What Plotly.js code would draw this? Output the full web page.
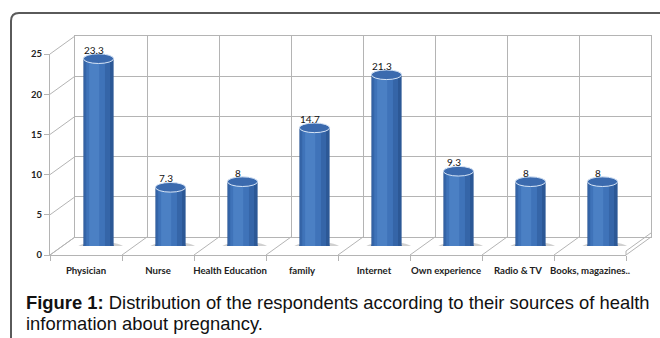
<!DOCTYPE html>
<html><head><meta charset="utf-8">
<script src="https://cdn.plot.ly/plotly-3.0.1.min.js"></script>
<style>html,body{margin:0;padding:0;background:#fff}#chart{width:660px;height:338px}</style>
</head><body><div id="chart"></div>
<script>
// ---- data ----
const categories = ["Physician","Nurse","Health Education","family","Internet","Own experience","Radio & TV","Books, magazines.."];
const percents = [23.3, 7.3, 8, 14.7, 21.3, 9.3, 8, 8];
const valueLabels = ["23.3","7.3","8","14.7","21.3","9.3","8","8"];
const yTicks = [0,5,10,15,20,25];
const captionBold = "Figure 1:";
const captionLine1 = " Distribution of the respondents according to their sources of health";
const captionLine2 = "information about pregnancy.";

// ---- geometry (pixels) ----
const W = 660, H = 338;
const front = {x0: 50, x1: 626, y0: 255, y1: 54};
const DX = 25, DY = -18;
const back = {x0: front.x0+DX, x1: front.x1+DX, y0: front.y0+DY, y1: front.y1+DY};
const mid = {x0: front.x0+DX/2, x1: front.x1+DX/2, y0: front.y0+DY/2, y1: front.y1+DY/2};
const px = x => x / W, py = y => 1 - y / H;
const dom = g => ({x: [px(g.x0), px(g.x1)], y: [py(g.y0), py(g.y1)]});
const yMax = 25, n = categories.length;
const idx = categories.map((c,i)=>i);

const gridCol = '#b4b4b4';
const traces = [];
// invisible carrier traces so the front axes and the back wall get drawn
traces.push({type:'scatter', x: categories, y: percents, xaxis:'x', yaxis:'y', mode:'markers',
  marker:{opacity:0}, hoverinfo:'skip', showlegend:false});
traces.push({type:'scatter', x: idx, y: percents, xaxis:'x2', yaxis:'y2', mode:'markers',
  marker:{opacity:0}, hoverinfo:'skip', showlegend:false});
// cylinder bodies: layered bars for shading
const layers = [
  {w:0.42, off:-0.21, c:'#2c5896'},
  {w:0.36, off:-0.20, c:'#3565a8'},
  {w:0.26, off:-0.17, c:'#3f73b9'},
  {w:0.14, off:-0.13, c:'#4b80c4'}
];
layers.forEach(L => traces.push({
  type:'bar', x: idx, y: percents, xaxis:'x3', yaxis:'y3',
  width: L.w, offset: L.off, marker:{color:L.c, line:{width:0}},
  hoverinfo:'skip', showlegend:false
}));

const shapes = [];
// frame
shapes.push({type:'path', xref:'paper', yref:'paper',
  path:`M ${px(11)} ${py(338)} L ${px(11)} ${py(21)} Q ${px(11)} ${py(13)} ${px(19)} ${py(13)} L ${px(660)} ${py(13)}`,
  line:{color:'#5a5a5a', width:2}});
// side wall diagonals
const yFront = v => front.y0 + (front.y1-front.y0)*v/yMax;
yTicks.forEach(v => shapes.push({type:'line', xref:'paper', yref:'paper',
  x0: px(front.x0), y0: py(yFront(v)), x1: px(back.x0), y1: py(yFront(v)+DY),
  line:{color:gridCol, width:1}}));
// floor diagonals
const step = (front.x1-front.x0)/n;
for (let k=0;k<=n;k++){
  shapes.push({type:'line', xref:'paper', yref:'paper',
    x0: px(front.x0+k*step), y0: py(front.y0), x1: px(back.x0+k*step), y1: py(back.y0),
    line:{color:gridCol, width:1}});
}
// floor slab edge
shapes.push({type:'line', xref:'paper', yref:'paper', x0:px(front.x1), y0:py(front.y0), x1:px(front.x1), y1:py(front.y0-4), line:{color:gridCol,width:1}});
shapes.push({type:'line', xref:'paper', yref:'paper', x0:px(front.x1), y0:py(front.y0-4), x1:px(back.x1), y1:py(back.y0-4), line:{color:gridCol,width:1}});
// shadows and cylinder ends
percents.forEach((v,i) => {
  shapes.push({type:'circle', xref:'x3', yref:'y3', layer:'below',
    x0: i-0.30, x1: i+0.36, y0: -1.0, y1: 0.5,
    fillcolor:'rgba(120,120,120,0.35)', line:{width:0}});
  shapes.push({type:'circle', xref:'x3', yref:'y3', layer:'below',
    x0: i-0.21, x1: i+0.21, y0: -0.6, y1: 0.6,
    fillcolor:'#2c5896', line:{width:0}});
  shapes.push({type:'circle', xref:'x3', yref:'y3', layer:'above',
    x0: i-0.21, x1: i+0.21, y0: v-0.6, y1: v+0.6,
    fillcolor:'#3b6aae', line:{color:'#d6e4f6', width:1}});
});

const annotations = percents.map((v,i) => ({
  x: i, y: v, xref:'x3', yref:'y3', text: valueLabels[i], showarrow:false,
  yanchor:'bottom', yshift: 1, xshift:-5, font:{family:'Lato, sans-serif', size:10, color:'#111'}
}));
const capFont = {family:'Liberation Sans, Arial, sans-serif', size:18.4, color:'#111'};
annotations.push({xref:'paper', yref:'paper', x: px(24), y: py(302), xanchor:'left', yanchor:'middle',
  showarrow:false, align:'left', text: `<b>${captionBold}</b>${captionLine1}`, font: capFont});
annotations.push({xref:'paper', yref:'paper', x: px(24), y: py(323), xanchor:'left', yanchor:'middle',
  showarrow:false, align:'left', text: captionLine2, font: capFont});

const dF = dom(front), dB = dom(back), dM = dom(mid);
const tickFont = {family:'Lato, sans-serif', size:9.5, color:'#222', weight:'bold'};
const catFont = {family:'Lato, sans-serif', size:9.6, color:'#222', weight:'bold'};
const layout = {
  width: W, height: H, margin:{l:0,r:0,t:0,b:0},
  paper_bgcolor:'#fff', plot_bgcolor:'rgba(0,0,0,0)',
  barmode:'overlay', showlegend:false,
  xaxis:{domain:dF.x, anchor:'y', type:'category', categoryorder:'array', categoryarray:categories,
    range:[-0.5, n-0.5], showgrid:false, zeroline:false, showline:true, linecolor:gridCol, tickangle:0,
    ticks:'outside', tickson:'boundaries', ticklen:5, tickcolor:gridCol, tickfont:catFont,
    ticklabelstandoff:6, fixedrange:true},
  yaxis:{domain:dF.y, anchor:'x', range:[0,yMax], tickvals:yTicks, showgrid:false, zeroline:false,
    showline:true, linecolor:gridCol, ticks:'outside', ticklen:5, tickcolor:gridCol, tickfont:tickFont, fixedrange:true},
  xaxis2:{domain:dB.x, anchor:'y2', range:[0,n], dtick:1, showgrid:true, gridcolor:gridCol, zeroline:false,
    showticklabels:false, showline:true, mirror:true, linecolor:gridCol, fixedrange:true},
  yaxis2:{domain:dB.y, anchor:'x2', range:[0,yMax], tickvals:yTicks, showgrid:true, gridcolor:gridCol, zeroline:false,
    showticklabels:false, showline:true, mirror:true, linecolor:gridCol, fixedrange:true},
  xaxis3:{domain:dM.x, anchor:'y3', type:'linear', range:[-0.5, n-0.5], visible:false, fixedrange:true},
  yaxis3:{domain:dM.y, anchor:'x3', range:[0,yMax], visible:false, fixedrange:true},
  shapes, annotations
};
Plotly.newPlot('chart', traces, layout, {staticPlot:true, displayModeBar:false});
</script></body></html>
